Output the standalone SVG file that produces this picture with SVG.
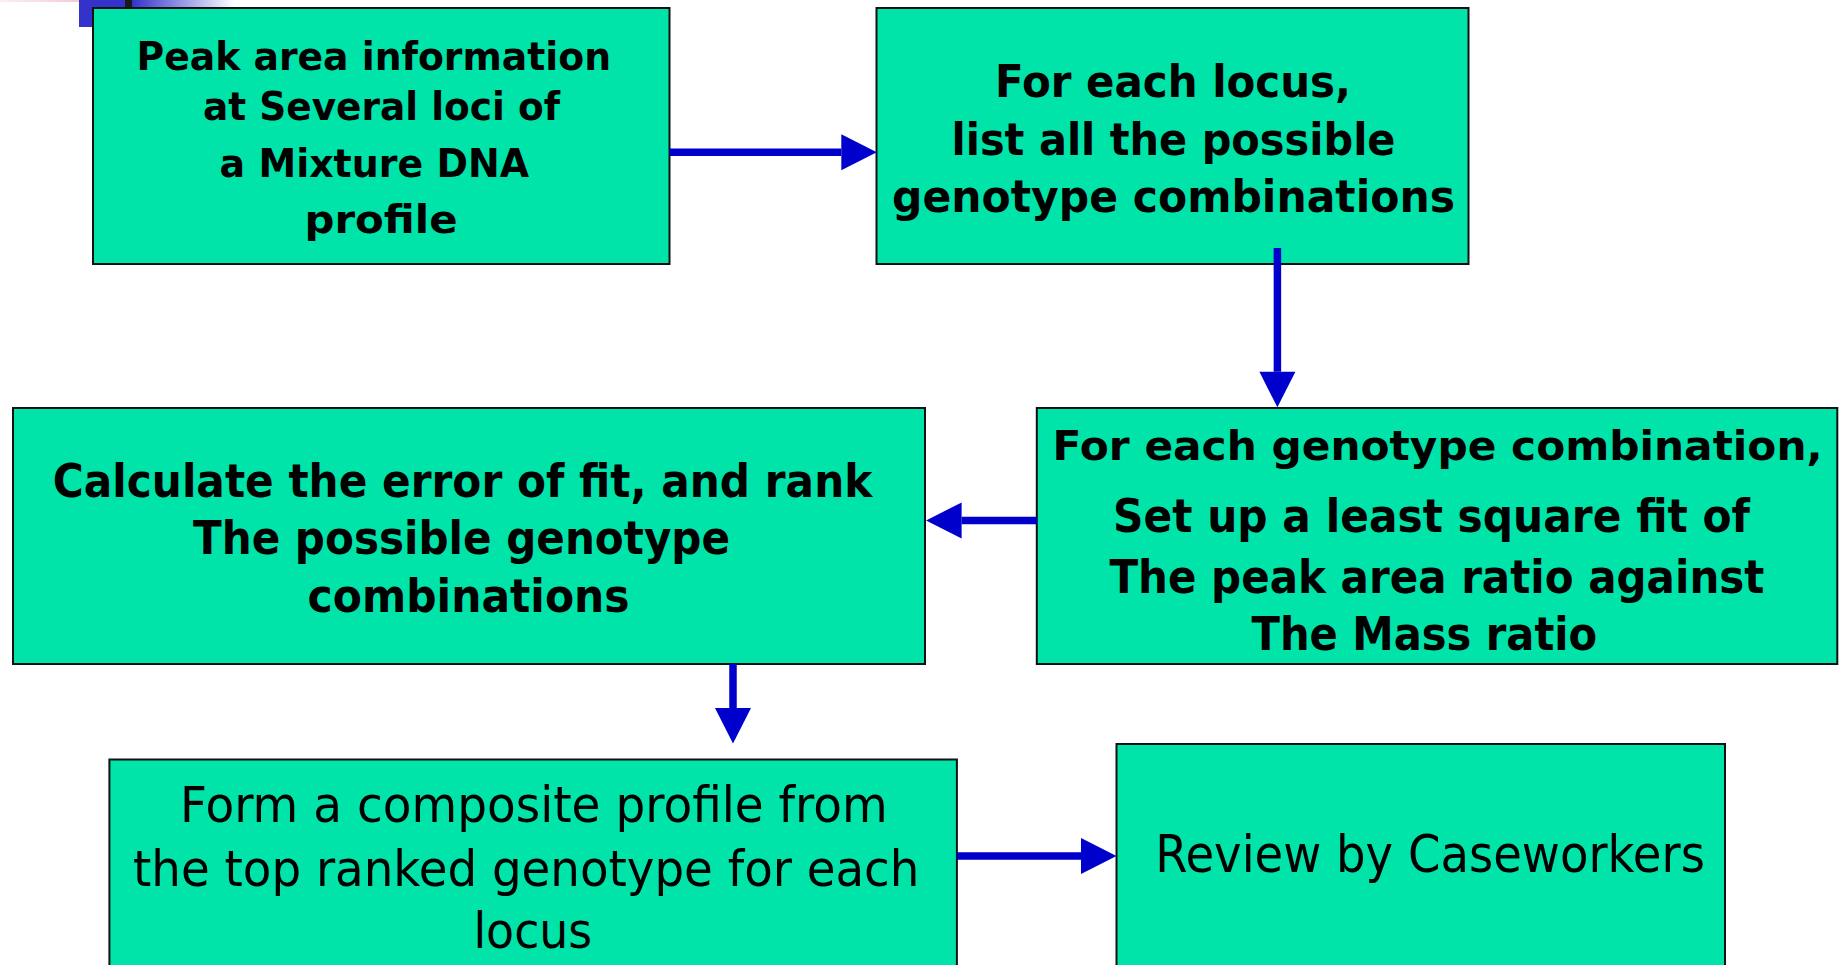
<svg xmlns="http://www.w3.org/2000/svg" width="1845" height="965" viewBox="0 0 1845 965">
<style>
.box{fill:#00E4AA;stroke:#111;stroke-width:2}
.b{font-family:"DejaVu Sans","Liberation Sans",sans-serif;font-weight:bold;fill:#000}
.r{font-family:"DejaVu Sans","Liberation Sans",sans-serif;font-weight:normal;fill:#000}
.conn{stroke:#0000CC;stroke-width:7.5;fill:none;marker-end:url(#ah)}
</style>
<defs>
<marker id="ah" markerUnits="userSpaceOnUse" markerWidth="36" markerHeight="38" refX="0" refY="19" orient="auto" overflow="visible">
<path d="M0,1 L35.5,19 L0,37 Z" fill="#0000CC"/>
</marker>
<linearGradient id="fade" x1="0" y1="0" x2="1" y2="0">
<stop offset="0" stop-color="#3333CC"/>
<stop offset="1" stop-color="#3333CC" stop-opacity="0"/>
</linearGradient>
<linearGradient id="pink" x1="0" y1="0" x2="1" y2="0">
<stop offset="0" stop-color="#F4C8D4" stop-opacity="0.3"/>
<stop offset="1" stop-color="#F0B8C8"/>
</linearGradient>
</defs>
<rect width="1845" height="965" fill="#fff"/>
<g id="decoration">
<rect x="0" y="0" width="110" height="2" fill="url(#pink)"/>
<rect x="79" y="0" width="47" height="27" fill="#3333CC"/>
<rect x="125" y="0" width="7" height="9" fill="#1a1a1a"/>
<rect x="132" y="0" width="102" height="7" fill="url(#fade)"/>
</g>
<g id="n1">
<rect class="box" x="93" y="8" width="576.5" height="256"/>
<text class="b" font-size="39" x="136.5" y="70" textLength="474.5" lengthAdjust="spacingAndGlyphs">Peak area information</text>
<text class="b" font-size="39" x="203" y="120" textLength="357" lengthAdjust="spacingAndGlyphs">at Several loci of</text>
<text class="b" font-size="39" x="219.6" y="176.7" textLength="309.4" lengthAdjust="spacingAndGlyphs">a Mixture DNA</text>
<text class="b" font-size="39" x="304.5" y="233.3" textLength="153" lengthAdjust="spacingAndGlyphs">profile</text>
</g>
<g id="n2">
<rect class="box" x="876.5" y="8" width="592" height="256"/>
<text class="b" font-size="45" x="995" y="96.7" textLength="356" lengthAdjust="spacingAndGlyphs">For each locus,</text>
<text class="b" font-size="45" x="951.5" y="155" textLength="444" lengthAdjust="spacingAndGlyphs">list all the possible</text>
<text class="b" font-size="45" x="892" y="212.3" textLength="563" lengthAdjust="spacingAndGlyphs">genotype combinations</text>
</g>
<g id="n3">
<rect class="box" x="1036.8" y="408" width="800.5" height="256"/>
<text class="b" font-size="41" x="1052.6" y="460" textLength="770" lengthAdjust="spacingAndGlyphs">For each genotype combination,</text>
<text class="b" font-size="46" x="1113" y="531.7" textLength="637" lengthAdjust="spacingAndGlyphs">Set up a least square fit of</text>
<text class="b" font-size="46" x="1109.4" y="593.3" textLength="655" lengthAdjust="spacingAndGlyphs">The peak area ratio against</text>
<text class="b" font-size="46" x="1251.5" y="650" textLength="345.7" lengthAdjust="spacingAndGlyphs">The Mass ratio</text>
</g>
<g id="n4">
<rect class="box" x="13" y="408" width="912" height="256"/>
<text class="b" font-size="46" x="52.8" y="496.7" textLength="819.5" lengthAdjust="spacingAndGlyphs">Calculate the error of fit, and rank</text>
<text class="b" font-size="46" x="193" y="554" textLength="537" lengthAdjust="spacingAndGlyphs">The possible genotype</text>
<text class="b" font-size="46" x="307.6" y="612.3" textLength="322" lengthAdjust="spacingAndGlyphs">combinations</text>
</g>
<g id="n5">
<rect class="box" x="109.4" y="759.5" width="847.5" height="250"/>
<text class="r" font-size="50" x="180.1" y="821.7" textLength="707.7" lengthAdjust="spacingAndGlyphs">Form a composite profile from</text>
<text class="r" font-size="50" x="133" y="886" textLength="786.4" lengthAdjust="spacingAndGlyphs">the top ranked genotype for each</text>
<text class="r" font-size="50" x="473.4" y="948.3" textLength="118.8" lengthAdjust="spacingAndGlyphs">locus</text>
</g>
<g id="n6">
<rect class="box" x="1116.5" y="744" width="608.5" height="260"/>
<text class="r" font-size="52" x="1155.2" y="871.7" textLength="549.7" lengthAdjust="spacingAndGlyphs">Review by Caseworkers</text>
</g>
<g id="connectors">
<path class="conn" d="M669.5,152.3 H841.3"/>
<path class="conn" d="M1277.4,248 V371.8"/>
<path class="conn" d="M1037,520.4 H961.6"/>
<path class="conn" d="M733,664 V708"/>
<path class="conn" d="M957,856 H1081"/>
</g>
</svg>
